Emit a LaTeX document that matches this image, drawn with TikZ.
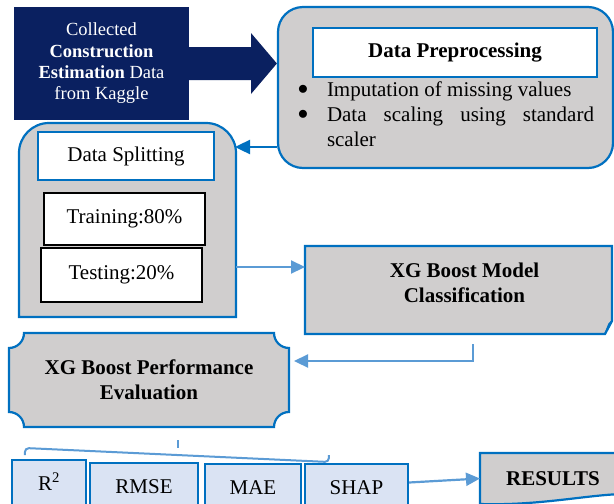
\documentclass[tikz,border=0pt]{standalone}
\usepackage{fontspec}
\setmainfont{Liberation Serif}
\usetikzlibrary{positioning, arrows.meta, shapes.geometric}

\definecolor{navyblue}{HTML}{0A2060}
\definecolor{edgeblue}{HTML}{0070C0}
\definecolor{flowblue}{HTML}{5B9BD5}
\definecolor{panelgray}{HTML}{D0CECE}
\definecolor{metricblue}{HTML}{DAE3F3}

\newcommand{\bodyfont}{\fontsize{21}{25}\selectfont}
\newcommand{\srcfont}{\fontsize{18.5}{21.3}\selectfont}

\begin{document}
\begin{tikzpicture}[x=1pt, y=-1pt,
        frame/.style={inner sep=0pt, outer sep=0pt},
        panel/.style={draw=edgeblue, line width=2.2pt, fill=panelgray},
        headbox/.style={draw=edgeblue, fill=white, inner sep=0pt, font=\bodyfont},
        cellbox/.style={draw=black, line width=1.3pt, fill=white, inner sep=0pt, font=\bodyfont},
        boldtext/.style={font=\bodyfont\bfseries, align=center, inner sep=0pt},
        dot/.style={inner sep=0pt, font=\bodyfont},
        metric/.style={draw=edgeblue, line width=2.2pt, fill=metricblue, font=\bodyfont,
            anchor=north, text height=14pt, text depth=32pt, inner ysep=16pt, inner xsep=0pt},
        darkflow/.style={draw=edgeblue, line width=2.4pt, -{Triangle[length=15pt, width=14pt]}},
        lightflow/.style={draw=flowblue, line width=2.2pt, -{Triangle[length=14pt, width=13pt]}},
        grouper/.style={draw=flowblue, line width=2pt, rounded corners=4pt}
    ]
        \useasboundingbox (0,0) rectangle (614,504);
        \clip (0,0) rectangle (614,504);

        % source data
        \node[frame, fill=navyblue, text=white, font=\srcfont, align=center,
            minimum width=175pt, minimum height=113pt] (source) at (101.5,63.5)
            {Collected\\\textbf{Construction}\\\textbf{Estimation} Data\\from Kaggle};

        % preprocessing
        \node[panel, rounded corners=25pt, minimum width=335pt, minimum height=161pt] (prep) at (445.5,87.5) {};
        \node[headbox, line width=2pt, font=\bodyfont\bfseries, minimum width=284pt, minimum height=49pt]
            (preptitle) at (455,52.5) {Data Preprocessing};
        \node[dot] (dotone) at (303,90) {$\bullet$};
        \node[dot] (dottwo) at (303,115) {$\bullet$};
        \node[frame, anchor=north west, font=\bodyfont, text width=267pt, align=justify] (preplist) at (327,82)
            {Imputation of missing values\par
             \noindent Data scaling using standard scaler};

        \fill[navyblue] ([yshift=16.5pt]source.east) -- ++(62,0) -- ++(0,-14) -- (source.east -| prep.west)
            -- ([xshift=62pt, yshift=-30.5pt]source.east) -- ++(0,-14) -- ([yshift=-16.5pt]source.east) -- cycle;

        % splitting
        \node[frame, minimum width=217pt, minimum height=194pt] (split) at (127.5,220) {};
        \draw[panel] (split.south west) -- ([yshift=-30pt]split.north west)
            arc[start angle=180, end angle=90, radius=30pt] -- ([xshift=-30pt]split.north east)
            arc[start angle=90, end angle=0, radius=30pt] -- (split.south east) -- cycle;
        \node[headbox, line width=1.5pt, minimum width=176pt, minimum height=48pt] (splittitle) at (126,156) {Data Splitting};
        \node[cellbox, minimum width=161pt, minimum height=52pt] (train) at (124.5,219) {Training:80\%};
        \node[cellbox, minimum width=161pt, minimum height=54pt] (test) at (121.5,275) {Testing:20\%};

        \draw[darkflow] ([yshift=-59.5pt]prep.west) -- ([xshift=-1pt, yshift=-59.5pt]split.east |- prep.west);

        % model
        \node[frame, minimum width=307pt, minimum height=88pt] (model) at (458.5,290) {};
        \draw[panel] (model.north west) -- (model.north east) -- ([yshift=13pt]model.south east)
            -- ([xshift=-7pt]model.south east) -- (model.south west) -- cycle;
        \draw[edgeblue, line width=1.5pt] ([xshift=-7pt]model.south east) -- ([xshift=-3pt, yshift=10pt]model.south east)
            -- ([yshift=13pt]model.south east);
        \node[boldtext] (modeltext) at ([xshift=6pt, yshift=7pt]model.center) {XG Boost Model\\Classification};

        \draw[lightflow] ([yshift=-47pt]split.east) -- ([yshift=-47pt]split.east -| model.west);

        % evaluation
        \node[frame, minimum width=280pt, minimum height=94pt] (eval) at (149,380) {};
        \draw[panel] ([xshift=15pt]eval.north west) -- ([xshift=-15pt]eval.north east)
            arc[start angle=180, end angle=270, radius=15pt] -- ([yshift=15pt]eval.south east)
            arc[start angle=90, end angle=180, radius=15pt] -- ([xshift=15pt]eval.south west)
            arc[start angle=0, end angle=90, radius=15pt] -- ([yshift=-15pt]eval.north west)
            arc[start angle=270, end angle=360, radius=15pt] -- cycle;
        \node[boldtext] (evaltext) at (eval.center) {XG Boost Performance\\Evaluation};

        \draw[lightflow] ([xshift=14.5pt, yshift=-10pt]model.south) |- ([xshift=5pt, yshift=19pt]eval.east);

        % metrics
        \node[metric, minimum width=74pt] (rsq) at (49,459) {R\textsuperscript{2}};
        \node[metric, minimum width=108pt] (rmse) at (144,462) {RMSE};
        \node[metric, minimum width=96pt] (mae) at (253,463) {MAE};
        \node[metric, minimum width=103pt] (shap) at (356.5,463) {SHAP};

        \coordinate (brleft) at ([xshift=14pt, yshift=4pt]rsq.north west);
        \coordinate (brright) at ([xshift=25pt, yshift=8pt]shap.north west);
        \coordinate (brtop) at (178,440);
        \draw[grouper] (brleft) -- ++(0,-7) -- ([yshift=-7pt]brright) -- (brright);
        \draw[grouper] (brtop) -- (brtop |- 0,448);

        % results
        \node[frame, minimum width=146pt, minimum height=51pt] (results) at (553,478.5) {};
        \draw[panel] (results.south west) -- (results.north west) -- (results.north east)
            -- ([yshift=10pt]results.south east) .. controls ([xshift=-35pt, yshift=10pt]results.south east)
            and ([xshift=60pt, yshift=-2pt]results.south west) .. (results.south west);
        \node[boldtext] (resultstext) at (results.center) {RESULTS};

        \draw[lightflow] ([yshift=-4pt]shap.east |- results.west) -- (results.west);
\end{tikzpicture}
\end{document}
